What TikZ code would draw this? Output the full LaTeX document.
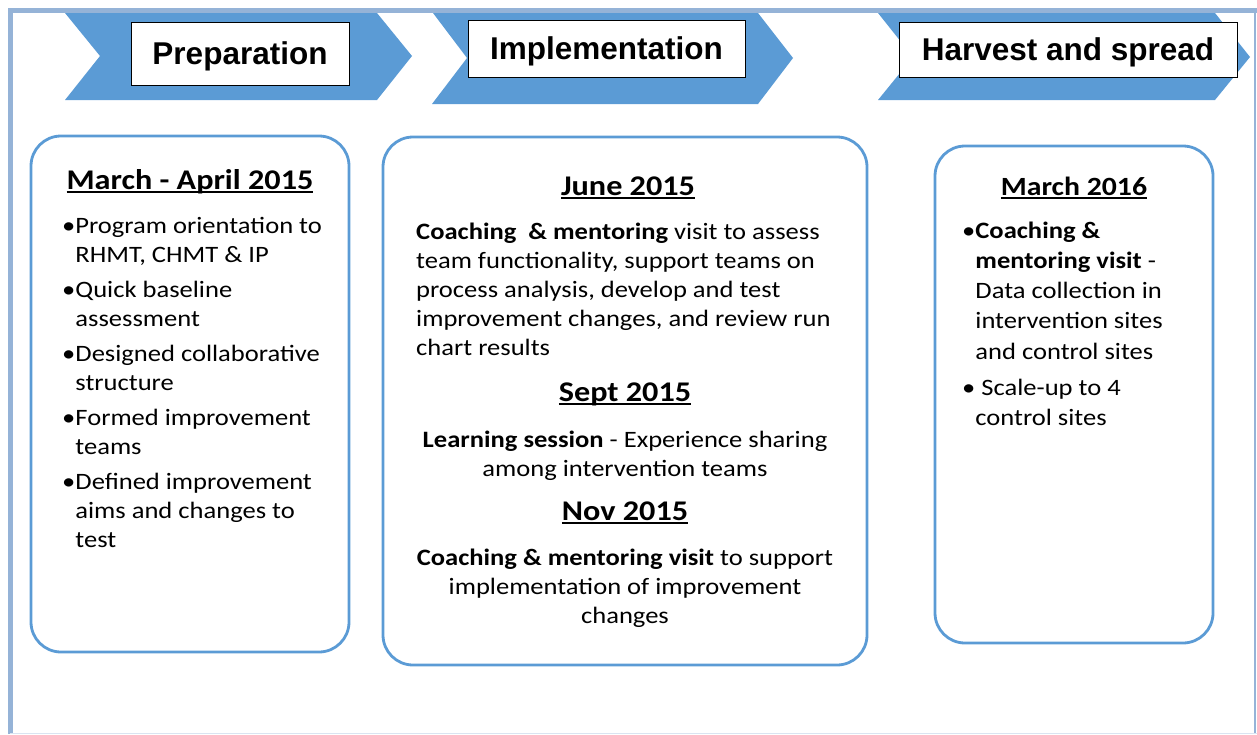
\documentclass[tikz,border=0pt]{standalone}
\usepackage{fontspec}
\setmainfont{Carlito}[FakeStretch=1.13]
\newfontfamily\phasefont{Liberation Sans}
\usetikzlibrary{positioning}

\definecolor{chevblue}{HTML}{5B9BD5}
\definecolor{frameblue}{HTML}{95B3D7}

% underlined date headings
\newcommand{\ulhead}[1]{\setbox0=\hbox{#1}\rlap{\copy0}\rule[-4pt]{\wd0}{1.8pt}}

\tikzset{
	phase/.style={draw=black, fill=white, line width=0.9pt, inner sep=0pt,
		text height=22.6pt, text depth=0pt,
		font=\phasefont\bfseries\fontsize{31.5}{36}\selectfont},
	period/.style={draw=chevblue, line width=2.8pt, rounded corners=30pt},
	heading/.style={inner sep=0pt, font=\bfseries\fontsize{28.5}{34}\selectfont},
	body/.style={inner sep=0pt, font=\fontsize{23.5}{29}\selectfont},
}

\begin{document}
\begin{tikzpicture}[x=1pt,y=-1pt]

		\useasboundingbox (0,0) rectangle (1257,734);

		% frame
		\draw[frameblue, line width=5pt] (10,734) -- (10,10) -- (1257,10);
		\draw[frameblue, line width=1.5pt] (1255,10) -- (1255,734);
		\draw[frameblue!35, line width=1pt] (10,733.5) -- (1257,733.5);

		% chevrons
		\fill[chevblue] (65,13) -- (377,13) -- (412,56) -- (377,100) -- (65,100) -- (100,56) -- cycle;
		\fill[chevblue] (433,13) -- (758,13) -- (793,58) -- (758,104) -- (432,104) -- (467,58) -- cycle;
		\fill[chevblue] (878,13) -- (1215,13) -- (1250,57) -- (1215,100) -- (878,100) -- (913,57) -- cycle;

		\node[phase, minimum width=218pt, minimum height=63pt] (prep) at (240,53.5) {Preparation};
		\node[phase, minimum width=277pt, minimum height=57pt] (impl) at (606.5,48.5) {Implementation};
		\node[phase, minimum width=338pt, minimum height=55pt] (harv) at (1068,49.5) {Harvest and spread};

		% period boxes
		\node[period, minimum width=318pt, minimum height=516pt] (marapr) at (190,394) {};
		\node[period, minimum width=484pt, minimum height=528pt] (year15) at (625,401) {};
		\node[period, minimum width=278pt, minimum height=497pt] (mar16) at (1074,394.5) {};

		% preparation
		\node[heading, anchor=base] (hmarapr) at (190,189) {\ulhead{March - April 2015}};
		\node[body, anchor=base west] (lmarapr) at (62,233) {
			\begin{tabular}[t]{@{}l@{}}
				•Program orientation to \\
				\hphantom{•}RHMT, CHMT \& IP \\[6pt]
				•Quick baseline \\
				\hphantom{•}assessment \\[6pt]
				•Designed collaborative \\
				\hphantom{•}structure \\[6pt]
				•Formed improvement \\
				\hphantom{•}teams \\[6pt]
				•Defined improvement \\
				\hphantom{•}aims and changes to \\
				\hphantom{•}test
			\end{tabular}
		};

		% implementation
		\node[heading, anchor=base] (hjune) at (628,195) {\ulhead{June 2015}};
		\node[body, anchor=base west] (ljune) at (416,239) {
			\begin{tabular}[t]{@{}l@{}}
				\textbf{Coaching\ \ \& mentoring} visit to assess \\
				team functionality, support teams on \\
				process analysis, develop and test \\
				improvement changes, and review run \\
				chart results
			\end{tabular}
		};

		\node[heading, anchor=base] (hsept) at (625,401) {\ulhead{Sept 2015}};
		\node[body, anchor=base] (lsept) at (625,447) {
			\begin{tabular}[t]{@{}c@{}}
				\textbf{Learning session} - Experience sharing \\
				among intervention teams
			\end{tabular}
		};

		\node[heading, anchor=base] (hnov) at (625,520) {\ulhead{Nov 2015}};
		\node[body, anchor=base] (lnov) at (625,565) {
			\begin{tabular}[t]{@{}c@{}}
				\textbf{Coaching \& mentoring visit} to support \\
				implementation of improvement \\
				changes
			\end{tabular}
		};

		% harvest and spread
		\node[heading, font=\bfseries\fontsize{26.3}{32}\selectfont, anchor=base] (hmar16) at (1074,195) {\ulhead{March 2016}};
		\node[body, font=\fontsize{23.5}{30.3}\selectfont, anchor=base west] (lmar16) at (962,238) {
			\begin{tabular}[t]{@{}l@{}}
				•\textbf{Coaching \&} \\
				\hphantom{•}\textbf{mentoring visit} - \\
				\hphantom{•}Data collection in \\
				\hphantom{•}intervention sites \\
				\hphantom{•}and control sites \\[6pt]
				• Scale-up to 4 \\
				\hphantom{•}control sites
			\end{tabular}
		};

	\end{tikzpicture}
\end{document}
